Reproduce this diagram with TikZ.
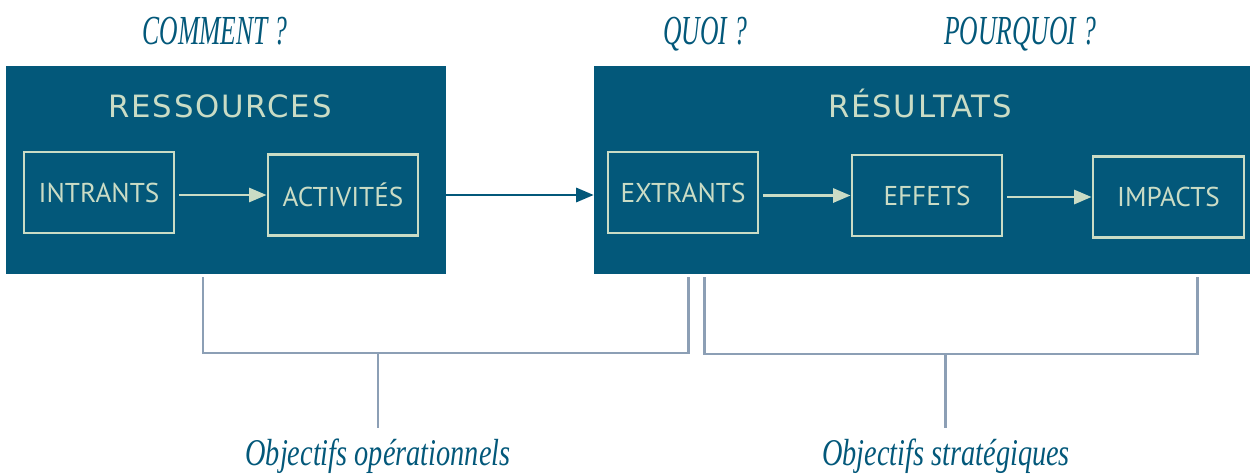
\documentclass[tikz,border=0pt]{standalone}
\usepackage{fontspec}
\usetikzlibrary{arrows.meta}
\newfontfamily\askfont[FakeStretch=0.62]{Liberation Serif}
\newfontfamily\goalfont[FakeStretch=0.75]{Liberation Serif}
\newfontfamily\headfont[LetterSpace=6]{DejaVu Sans}
\newfontfamily\stagefont{PT Sans}
\definecolor{deepteal}{HTML}{03587A}
\definecolor{sage}{HTML}{CADCC5}
\definecolor{slate}{HTML}{8C9FB5}

\begin{document}
\begin{tikzpicture}[x=0.02cm, y=-0.02cm,
    big box/.style={rectangle, fill=deepteal, inner sep=0pt},
    stage node/.style={rectangle, draw=sage, line width=1.6pt, text=sage, inner sep=0pt,
      minimum width=3cm, minimum height=1.62cm, font=\stagefont\fontsize{15.5}{18}\selectfont},
    head node/.style={anchor=base, inner sep=0pt, text=sage, font=\headfont\fontsize{17.5}{20}\selectfont},
    ask node/.style={anchor=base, inner sep=0pt, text=deepteal, font=\askfont\itshape\fontsize{23.5}{26}\selectfont},
    goal node/.style={anchor=base, inner sep=0pt, text=deepteal, font=\goalfont\itshape\fontsize{21.5}{24}\selectfont},
    flow/.style={draw=sage, line width=1.6pt, -{Triangle[length=10pt, width=8pt]}, shorten <=0.08cm},
    brace line/.style={draw=slate, line width=1.7pt}]
  \useasboundingbox (0,0) rectangle (1250,473);

  % the two blocks
  \node[big box, minimum width=8.8cm, minimum height=4.16cm] (res) at (226,170) {};
  \node[big box, minimum width=13.12cm, minimum height=4.16cm] (out) at (922,170) {};
  \node[head node] (reshead) at (220,117) {RESSOURCES};
  \node[head node] (outhead) at (920,117) {RÉSULTATS};

  % questions on top
  \node[ask node] (how) at (215,45) {COMMENT\,?};
  \node[ask node] (what) at (705,45) {QUOI\,?};
  \node[ask node] (why) at (1020,45) {POURQUOI\,?};

  % chain
  \node[stage node] (int) at (99,192.5) {INTRANTS};
  \node[stage node] (act) at (343,195) {ACTIVITÉS};
  \node[stage node] (ext) at (683,192.5) {EXTRANTS};
  \node[stage node] (eff) at (927,195.5) {EFFETS};
  \node[stage node, minimum width=3.02cm] (imp) at (1168.5,197) {IMPACTS};

  \path[flow] (act.west -| int.east) -- (act.west);
  \path[flow] (eff.west -| ext.east) -- (eff.west);
  \path[flow] (imp.west -| eff.east) -- (imp.west);
  \draw[deepteal, line width=1.6pt, -{Triangle[length=10pt, width=8pt]}] (act.east) -- (act.east -| out.west);

  % objectives
  \node[goal node] (opgoal) at (378,465) {Objectifs opérationnels};
  \node[goal node] (stgoal) at (946,465) {Objectifs stratégiques};

  \coordinate (opL) at (203,277);
  \coordinate (opR) at (688,277);
  \coordinate (opM) at (378,353);
  \coordinate (stL) at (704,277);
  \coordinate (stR) at (1197,277);
  \coordinate (stM) at (945,354);

  \draw[brace line] (opL) |- (opM) -| (opR);
  \draw[brace line] (opM) -- ([yshift=6pt]opgoal.north -| opM);
  \draw[brace line] (stL) |- (stM) -| (stR);
  \draw[brace line] (stM) -- ([yshift=6pt]stgoal.north -| stM);
\end{tikzpicture}
\end{document}
